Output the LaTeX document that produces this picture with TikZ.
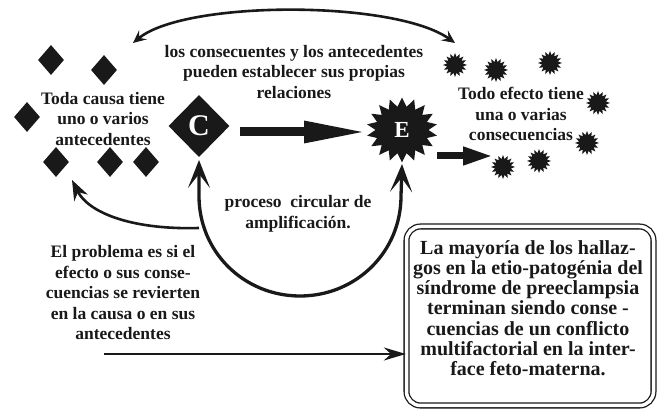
\documentclass[tikz,border=0pt]{standalone}
\usepackage{fontspec}
\setmainfont{Liberation Serif}
\usetikzlibrary{shapes.geometric,shapes.symbols,arrows.meta}
\begin{document}
\begin{tikzpicture}[x=1pt,y=-1pt,
  txt/.style={align=center, font=\bfseries\fontsize{17.5}{20.5}\selectfont, inner sep=0pt, text=black!90},
  bigtxt/.style={align=center, font=\bfseries\fontsize{20}{20.2}\selectfont, inner sep=0pt, text=black!90},
  dia/.style={diamond, fill=black!90, inner sep=0pt, minimum width=26pt, minimum height=30pt},
  burst/.style={starburst, starburst points=16, starburst point height=4pt, random starburst=0, fill=black!90, inner sep=0pt, minimum width=24pt, minimum height=24pt},
  thin arrow/.style={line width=2.6pt, draw=black!90},
]
\useasboundingbox (0,0) rectangle (659,411);
% antecedents
\node[dia] (a1) at (51,60) {};
\node[dia] (a2) at (104,70) {};
\node[dia] (a3) at (27,117) {};
\node[dia] (a4) at (56,162) {};
\node[dia] (a5) at (110,162) {};
\node[dia] (a6) at (146,162) {};
\node[txt] (toda) at (103,119) {Toda causa tiene\\uno o varios\\antecedentes};
% cause
\node[diamond, fill=black!90, inner sep=0pt, minimum width=61pt, minimum height=62pt,
  text=white, font=\bfseries\fontsize{30}{30}\selectfont] (C) at (199,126) {C};
% effect
\node[starburst, starburst points=18, starburst point height=9pt, random starburst=0,
  fill=black!90, inner sep=0pt, minimum width=71pt, minimum height=65pt,
  text=white, font=\bfseries\fontsize{23}{23}\selectfont] (E) at (402,130) {E};
% consequences
\node[burst] (b1) at (455,65) {};
\node[burst] (b2) at (496,70) {};
\node[burst] (b3) at (550,63) {};
\node[burst] (b4) at (598,103) {};
\node[burst] (b5) at (587,143) {};
\node[burst] (b6) at (503,167) {};
\node[burst] (b7) at (539,161) {};
\node[txt] (todo) at (521,114) {Todo efecto tiene\\una o varias\\consecuencias};
% relations text
\node[txt] (rel) at (294,72) {los consecuentes y los antecedentes\\pueden establecer sus propias\\relaciones};
\node[txt] (proc) at (298,214) {proceso\ \ circular de\\amplificación.};
\node[txt] (prob) at (123,293) {El problema es si el\\efecto o sus conse-\\cuencias se revierten\\en la causa o en sus\\antecedentes};
% box
\node[draw=black!90, double, double distance=3.5pt, line width=1.3pt, rounded corners=14pt,
  minimum width=247pt, minimum height=179pt, inner sep=0pt] (frame) at (530,316) {};
\node[bigtxt] (boxtxt) at (528,308) {La mayoría de los hallaz-\\gos en la etio-patogénia del\\síndrome de preeclampsia\\terminan siendo conse -\\cuencias de un conflicto\\multifactorial en la inter-\\face feto-materna.};
% coordinates
\coordinate (tl) at (133,43);
\coordinate (tr) at (455,43);
\coordinate (ce1) at (240,132);
\coordinate (ce2) at (368,132);
\coordinate (ee1) at (437,156);
\coordinate (ee2) at (493,156);
\coordinate (cl) at (199,160);
\coordinate (cr) at (402,164);
\coordinate (rl) at (199,228);
\coordinate (at) at (72,180);
\coordinate (la1) at (104,354);
% connectors
\draw[thin arrow, {Stealth[length=13pt,width=12pt,inset=5pt]}-{Stealth[length=13pt,width=12pt,inset=5pt]}]
  (tl) .. controls (185,0) and (395,0) .. (tr);
\draw[line width=9pt, draw=black!90, -{Triangle[length=64pt,width=20pt]}] (ce1) -- (ce2);
\draw[line width=7pt, draw=black!90, -{Triangle[length=30pt,width=17pt]}] (ee1) -- (ee2);
\draw[line width=3.3pt, draw=black!90, {Stealth[open,length=28pt,width=22pt,inset=14pt]}-{Stealth[open,length=28pt,width=22pt,inset=14pt]}]
  (cl) -- (199,196) .. controls (199,252) and (244,296) .. (300,296) .. controls (356,296) and (401,252) .. (401,196) -- (cr);
\draw[thin arrow, -{Stealth[length=20pt,width=15pt]}] (rl) .. controls (130,230) and (88,212) .. (at);
\draw[thin arrow, -{Stealth[length=22pt,width=13pt]}] (la1) -- (frame.west |- la1);
\end{tikzpicture}
\end{document}
